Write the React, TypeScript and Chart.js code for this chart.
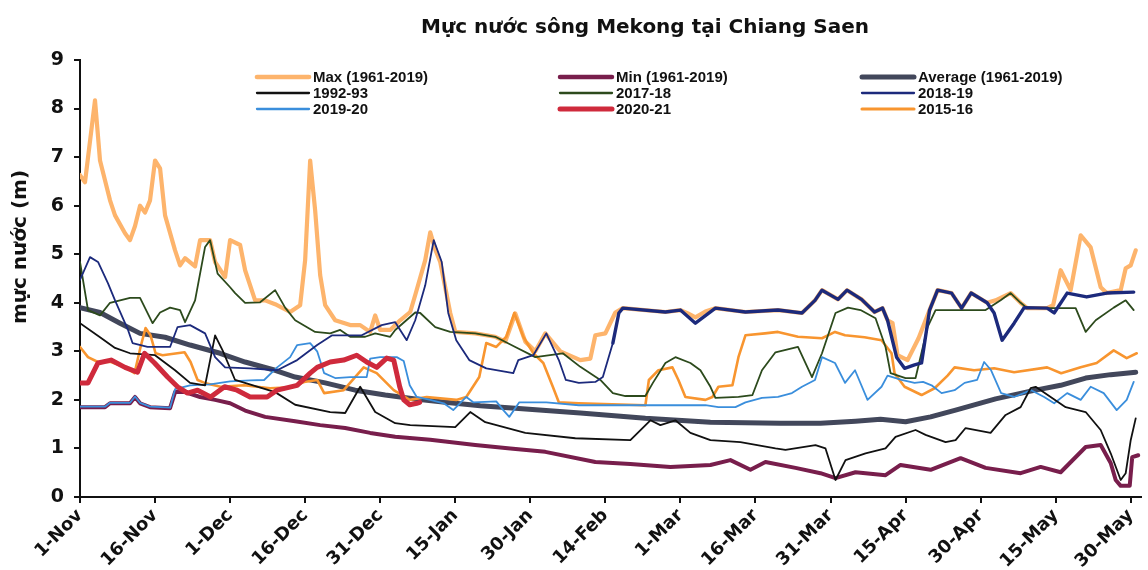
import React, { useEffect, useRef } from 'react';
import { Chart, registerables } from 'chart.js';

Chart.register(...registerables);

type Pt = [number, number];

const TITLE = 'Mực nước sông Mekong tại Chiang Saen';
const Y_TITLE = 'mực nước (m)';

const tickDays = [0, 15, 30, 45, 60, 75, 90, 105, 120, 135, 150, 165, 180, 195, 210];
const tickLabels = ['1-Nov', '16-Nov', '1-Dec', '16-Dec', '31-Dec', '15-Jan', '30-Jan', '14-Feb', '1-Mar', '16-Mar', '31-Mar', '15-Apr', '30-Apr', '15-May', '30-May'];
const yTicks = [0, 1, 2, 3, 4, 5, 6, 7, 8, 9];

const seriesNames = ['Max (1961-2019)', 'Min (1961-2019)', 'Average (1961-2019)', '1992-93', '2017-18', '2018-19', '2019-20', '2020-21', '2015-16'];

// [day since 1-Nov, water level (m)]
const maxSeries: Pt[] = [[0, 6.63], [1, 6.48], [3, 8.17], [4, 6.93], [6, 6.11], [7, 5.8], [9, 5.43], [10, 5.29], [11, 5.58], [12, 6.0], [13, 5.86], [14, 6.11], [15, 6.93], [16, 6.77], [17, 5.8], [19, 5.08], [20, 4.77], [21, 4.92], [23, 4.75], [24, 5.29], [26, 5.29], [27, 4.84], [29, 4.53], [30, 5.29], [32, 5.19], [33, 4.67], [35, 4.05], [37, 4.05], [39, 3.97], [42, 3.81], [44, 3.95], [45, 4.88], [46, 6.93], [47, 5.9], [48, 4.57], [49, 3.95], [51, 3.64], [54, 3.54], [56, 3.54], [58, 3.4], [59, 3.74], [60, 3.44], [62, 3.44], [64, 3.64], [66, 3.81], [67, 4.16], [69, 4.88], [70, 5.45], [71, 5.1], [72, 4.84], [74, 3.79], [75, 3.4], [79, 3.37], [83, 3.3], [85, 3.2], [87, 3.78], [89, 3.2], [91, 3.0], [93, 3.37], [96, 3.0], [100, 2.82], [102, 2.85], [103, 3.33], [105, 3.37], [107, 3.8], [108.5, 3.89], [117, 3.81], [120, 3.85], [121.5, 3.78], [123, 3.7], [125, 3.82], [127, 3.89], [133, 3.81], [139.5, 3.85], [144.3, 3.79], [146.9, 4.05], [148.3, 4.26], [151.5, 4.07], [153.3, 4.26], [156.2, 4.07], [158.8, 3.81], [160.4, 3.89], [161.4, 3.64], [162.4, 3.58], [163.4, 2.92], [165.4, 2.82], [167.6, 3.27], [169.8, 3.85], [171.4, 4.26], [174.2, 4.2], [176.2, 3.89], [178.1, 4.2], [181.3, 4.0], [183, 4.05], [186, 4.2], [188, 4.0], [189.3, 3.89], [193.3, 3.89], [194.5, 3.95], [196, 4.67], [198, 4.26], [200, 5.39], [202, 5.14], [204, 4.32], [205.2, 4.2], [208, 4.26], [209, 4.71], [210, 4.77], [211, 5.08]];

const minSeries: Pt[] = [[0, 1.85], [5, 1.85], [6, 1.93], [10, 1.93], [11, 2.06], [12, 1.93], [14, 1.85], [18, 1.83], [19, 2.16], [21, 2.16], [24, 2.06], [27, 2.0], [30, 1.93], [33, 1.78], [37, 1.65], [43, 1.56], [48, 1.48], [53, 1.42], [58, 1.32], [63, 1.24], [70, 1.18], [79, 1.07], [86, 1.0], [93, 0.93], [103, 0.72], [110, 0.68], [118, 0.62], [126, 0.66], [130, 0.76], [134, 0.56], [137, 0.72], [143, 0.6], [148, 0.49], [151, 0.39], [155, 0.51], [161, 0.45], [164, 0.66], [170, 0.56], [176, 0.8], [181, 0.6], [188, 0.49], [192, 0.62], [196, 0.51], [201, 1.03], [204, 1.07], [206, 0.7], [207, 0.35], [208, 0.23], [209.8, 0.23], [210.3, 0.82], [211.5, 0.86]];

const averageSeries: Pt[] = [[0, 3.9], [4, 3.8], [8, 3.58], [12, 3.37], [17, 3.29], [22, 3.13], [28, 2.96], [33, 2.78], [39, 2.61], [43, 2.47], [49, 2.35], [55, 2.2], [61, 2.1], [67, 2.02], [73, 1.95], [80, 1.88], [87, 1.83], [100, 1.73], [113, 1.62], [126, 1.54], [140, 1.52], [148, 1.52], [155, 1.56], [160, 1.6], [165, 1.55], [170, 1.65], [175, 1.79], [183, 2.02], [190, 2.18], [196, 2.3], [201, 2.45], [206, 2.52], [211, 2.57]];

const y1992: Pt[] = [[0, 3.58], [4, 3.29], [7, 3.07], [10, 2.96], [15, 2.92], [19, 2.61], [22, 2.35], [25, 2.3], [27, 3.33], [28.5, 3.02], [31, 2.41], [39, 2.16], [43, 1.9], [50, 1.75], [53, 1.73], [56, 2.27], [59, 1.75], [63, 1.52], [66, 1.48], [75, 1.44], [78, 1.75], [81, 1.54], [89, 1.32], [99, 1.21], [110, 1.17], [114, 1.58], [116, 1.48], [119, 1.58], [122, 1.32], [126, 1.17], [132, 1.13], [139, 1.0], [141, 0.97], [147, 1.07], [149, 1.0], [151, 0.35], [153, 0.76], [157, 0.9], [161, 1.0], [163, 1.24], [167, 1.38], [169, 1.28], [173, 1.13], [175, 1.17], [177, 1.42], [182, 1.32], [185, 1.69], [188, 1.85], [190, 2.24], [191, 2.27], [197, 1.85], [201, 1.75], [204, 1.38], [206, 0.9], [208, 0.35], [209, 0.49], [210, 1.17], [211, 1.62]];

const y2017: Pt[] = [[0, 4.84], [1.6, 3.85], [4, 3.74], [6, 4.0], [10, 4.1], [12, 4.1], [14.5, 3.58], [16, 3.8], [18, 3.9], [20, 3.85], [21, 3.6], [23, 4.05], [25, 5.15], [26, 5.29], [27.5, 4.6], [30, 4.32], [31, 4.2], [33, 4.0], [36, 4.01], [39, 4.26], [41, 3.9], [43, 3.64], [47, 3.4], [50, 3.37], [52, 3.44], [54, 3.3], [57, 3.3], [59, 3.37], [62, 3.3], [63, 3.44], [67, 3.8], [68, 3.79], [71, 3.5], [74, 3.4], [79, 3.37], [83, 3.3], [87, 3.09], [91, 2.88], [96.5, 2.96], [100, 2.68], [104, 2.41], [106.5, 2.14], [109, 2.08], [113, 2.08], [114.5, 2.35], [117, 2.76], [119, 2.88], [122, 2.76], [124, 2.61], [126, 2.27], [127, 2.04], [131.6, 2.06], [134.4, 2.1], [136.3, 2.61], [139, 2.98], [143.5, 3.09], [146.3, 2.47], [148.3, 2.96], [151, 3.79], [153.5, 3.9], [156, 3.85], [159, 3.68], [161, 3.09], [162, 2.55], [165, 2.45], [167, 2.45], [169.4, 3.5], [171, 3.85], [181, 3.85], [184, 4.05], [186, 4.2], [188, 4.0], [189.3, 3.89], [199, 3.89], [201, 3.4], [203, 3.64], [206.6, 3.9], [209, 4.05], [210.6, 3.85]];

const y2018: Pt[] = [[0, 4.47], [2, 4.94], [3.6, 4.84], [5.6, 4.4], [7, 4.05], [9.6, 3.44], [10.5, 3.17], [13.5, 3.09], [18, 3.09], [19.5, 3.5], [22, 3.54], [25, 3.37], [27, 2.88], [29, 2.67], [34, 2.65], [39.4, 2.61], [43.4, 2.82], [47.4, 3.13], [50.4, 3.33], [56.3, 3.33], [60.3, 3.54], [63, 3.6], [65.3, 3.23], [67, 3.64], [69, 4.36], [70.7, 5.29], [72.3, 4.84], [73.6, 3.79], [75.2, 3.23], [77.8, 2.82], [81.2, 2.65], [86.6, 2.55], [87.6, 2.82], [90.6, 2.92], [93.2, 3.37], [95.7, 2.82], [97.1, 2.41], [99.7, 2.35], [103, 2.37], [104.5, 2.47], [106.5, 3.17], [107.7, 3.79], [108.5, 3.89], [117, 3.81], [120, 3.85], [123, 3.58], [127, 3.89], [133, 3.81], [139.5, 3.85], [144.3, 3.79], [146.9, 4.05], [148.3, 4.26], [151.5, 4.07], [153.3, 4.26], [156.2, 4.07], [158.8, 3.81], [160.4, 3.89], [161.4, 3.64], [163.2, 2.88], [164.8, 2.65], [166.8, 2.72], [168.2, 2.76], [169.8, 3.85], [171.4, 4.26], [174.2, 4.2], [176.2, 3.89], [178.1, 4.2], [181.3, 4.0], [182.7, 3.79], [184.3, 3.23], [186.7, 3.58], [188.7, 3.9], [193.3, 3.89], [194.7, 3.79], [197.3, 4.2], [201.2, 4.12], [205.2, 4.2], [210.6, 4.22]];

const y2019: Pt[] = [[0, 1.86], [5, 1.86], [6, 1.94], [10, 1.94], [11, 2.07], [12, 1.94], [14, 1.86], [18, 1.84], [19, 2.22], [22, 2.3], [26, 2.32], [30, 2.38], [34, 2.4], [36.8, 2.41], [39.4, 2.67], [42, 2.88], [43.4, 3.13], [46, 3.17], [47.4, 3.0], [48.8, 2.55], [51, 2.45], [54, 2.47], [57.3, 2.47], [58, 2.85], [60, 2.88], [63.3, 2.88], [64.7, 2.8], [65.9, 2.3], [67.3, 2.06], [70, 2.0], [72.7, 1.93], [74.6, 1.79], [77.2, 2.06], [78.6, 1.95], [83.2, 1.97], [84.6, 1.79], [85.8, 1.65], [87.8, 1.95], [93.2, 1.95], [99.7, 1.89], [113, 1.89], [125, 1.89], [127.6, 1.85], [131, 1.85], [133, 1.95], [136.3, 2.04], [139.5, 2.06], [142.3, 2.14], [144.3, 2.27], [146.9, 2.41], [148.3, 2.88], [150.9, 2.76], [152.9, 2.35], [154.9, 2.61], [157.4, 2.0], [160.2, 2.27], [161.4, 2.5], [164.2, 2.41], [166.8, 2.35], [168.5, 2.37], [170.2, 2.3], [172.2, 2.14], [174.8, 2.2], [176.8, 2.35], [179.3, 2.41], [180.7, 2.78], [182.1, 2.61], [184.1, 2.14], [186.7, 2.06], [190.1, 2.2], [192.7, 2.06], [194.7, 1.93], [197.3, 2.14], [200, 2.0], [202, 2.27], [204.6, 2.14], [207.2, 1.79], [209.2, 2.0], [210.6, 2.37]];

const y2020: Pt[] = [[0, 2.35], [1.6, 2.35], [3.6, 2.76], [6.2, 2.82], [9, 2.67], [11.5, 2.57], [12.9, 2.96], [14.9, 2.76], [17.5, 2.47], [19.5, 2.27], [21.5, 2.14], [23.5, 2.2], [26.1, 2.06], [28.9, 2.27], [31.4, 2.2], [34, 2.06], [37.4, 2.06], [39.4, 2.2], [43.4, 2.3], [46, 2.55], [47.4, 2.67], [50, 2.78], [52.7, 2.82], [55.3, 2.92], [57.3, 2.78], [59.3, 2.67], [61.3, 2.86], [62.7, 2.82], [63.9, 2.27], [64.7, 2.0], [65.9, 1.9], [67.3, 1.93], [67.9, 1.95]];

const y2015: Pt[] = [[0, 3.09], [1.6, 2.88], [3.6, 2.78], [6.2, 2.78], [9, 2.67], [10.9, 2.55], [12.1, 3.09], [13.1, 3.48], [14.1, 3.33], [15.1, 2.96], [16.5, 2.92], [20.9, 2.98], [22.1, 2.78], [23.5, 2.41], [24.9, 2.35], [28.1, 2.27], [32.8, 2.3], [38, 2.24], [42, 2.26], [44.8, 2.37], [47.4, 2.41], [48.8, 2.14], [52.7, 2.2], [56.7, 2.67], [59.3, 2.55], [62.7, 2.2], [65.9, 2.0], [69.3, 2.06], [75.2, 2.0], [77.2, 2.06], [79.8, 2.47], [81.2, 3.17], [83.2, 3.09], [85.2, 3.3], [86.8, 3.79], [88.6, 3.3], [90.6, 2.96], [92.6, 2.76], [94.5, 2.27], [95.7, 1.95], [99.7, 1.93], [113, 1.89], [113.7, 2.41], [115.6, 2.61], [118.4, 2.67], [119.6, 2.41], [121, 2.06], [125, 2.0], [126.4, 2.06], [127.6, 2.27], [130.4, 2.3], [131.6, 2.88], [133, 3.33], [136.9, 3.37], [139.5, 3.4], [143.5, 3.3], [148.3, 3.27], [150.9, 3.4], [152.9, 3.33], [156.8, 3.29], [160.2, 3.23], [162.2, 2.96], [162.8, 2.55], [164.8, 2.27], [168.2, 2.1], [170.8, 2.24], [173.4, 2.5], [174.8, 2.67], [178.7, 2.61], [182.7, 2.65], [186.7, 2.57], [193.3, 2.67], [196.1, 2.55], [200, 2.67], [203.2, 2.76], [206.6, 3.02], [209.2, 2.86], [211.2, 2.96]];

const seriesData: Pt[][] = [maxSeries, minSeries, averageSeries, y1992, y2017, y2018, y2019, y2020, y2015];
const seriesColors = ['#FDB46C', '#781E4C', '#42475B', '#111111', '#2C4A1C', '#1C2A7C', '#3A8EDC', '#CF2A3C', '#F8952F'];
const seriesWidths = [4.2, 4, 5, 1.8, 1.8, 1.8, 1.8, 5, 2.6];
const seriesOrder = [9, 8, 7, 3, 5, 2, 4, 1, 6];
// legend grid: column-major, as in the reference
const legendSlots = [[0, 0], [1, 0], [2, 0], [0, 1], [1, 1], [2, 1], [0, 2], [1, 2], [2, 2]];

const overlayPlugin = {
  id: 'overlay',
  afterDraw(chart: any) {
    const ctx: CanvasRenderingContext2D = chart.ctx;
    ctx.save();
    ctx.fillStyle = '#111';
    ctx.textAlign = 'center';
    ctx.textBaseline = 'middle';
    ctx.font = "bold 20px 'DejaVu Sans'";
    ctx.fillText(TITLE, 645, 28);

    ctx.save();
    ctx.translate(21, 247);
    ctx.rotate(-Math.PI / 2);
    ctx.font = "bold 20px 'DejaVu Sans'";
    ctx.fillText(Y_TITLE, 0, 0);
    ctx.restore();

    const colX = [255, 558, 860];
    const rowY = [77, 93, 109];
    ctx.textAlign = 'left';
    ctx.font = "bold 15px 'Liberation Sans'";
    seriesNames.forEach((name, i) => {
      const [c, r] = legendSlots[i];
      const x = colX[c];
      const y = rowY[r];
      ctx.beginPath();
      ctx.strokeStyle = seriesColors[i];
      ctx.lineWidth = Math.min(seriesWidths[i] + 0.5, 5);
      ctx.lineCap = 'round';
      ctx.moveTo(x + 2, y);
      ctx.lineTo(x + 54, y);
      ctx.stroke();
      ctx.fillStyle = '#111';
      ctx.fillText(name, x + 58, y + 1);
    });
    ctx.restore();
  },
};

export default function App() {
  const ref = useRef<HTMLCanvasElement>(null);

  useEffect(() => {
    const canvas = ref.current;
    if (!canvas) return;
    const datasets = seriesNames.map((name, i) => ({
      label: name,
      data: seriesData[i].map(([x, y]) => ({ x, y })),
      borderColor: seriesColors[i],
      backgroundColor: seriesColors[i],
      borderWidth: seriesWidths[i],
      order: seriesOrder[i],
      pointRadius: 0,
      fill: false,
      tension: 0,
      borderJoinStyle: 'round' as const,
      borderCapStyle: 'round' as const,
      // 2018-19 runs along the Max envelope from mid-Feb: draw it heavier there
      segment: i === 5 ? { borderWidth: (c: any) => (c.p0.parsed.x >= 106 ? 3.4 : undefined) } : undefined,
    }));
    const tickFont = { family: "'DejaVu Sans'", weight: 'bold' as const };
    const chart = new Chart(canvas, {
      type: 'line',
      data: { datasets },
      options: {
        responsive: false,
        animation: false,
        layout: { padding: { left: 0, top: 60, right: 2, bottom: 0 } },
        plugins: {
          legend: { display: false },
          tooltip: { enabled: false },
          title: { display: false },
        },
        scales: {
          x: {
            type: 'linear',
            min: 0,
            max: 212,
            afterBuildTicks: (s: any) => {
              s.ticks = tickDays.map((v) => ({ value: v }));
            },
            afterFit: (s: any) => {
              s.height = 73;
            },
            ticks: {
              autoSkip: false,
              minRotation: 45,
              maxRotation: 45,
              padding: 2,
              color: '#111',
              font: { ...tickFont, size: 18 },
              callback: (v: any) => {
                const idx = tickDays.indexOf(Number(v));
                return idx >= 0 ? tickLabels[idx] : '';
              },
            },
            grid: { drawOnChartArea: false, drawTicks: true, tickLength: 6, color: '#111', lineWidth: 2 },
            border: { display: true, color: '#111', width: 2 },
          },
          y: {
            type: 'linear',
            min: 0,
            max: 9,
            afterBuildTicks: (s: any) => {
              s.ticks = yTicks.map((v) => ({ value: v }));
            },
            afterFit: (s: any) => {
              s.width = 80;
            },
            ticks: {
              padding: 10,
              color: '#111',
              font: { ...tickFont, size: 19 },
            },
            grid: { drawOnChartArea: false, drawTicks: true, tickLength: 6, color: '#111', lineWidth: 2 },
            border: { display: true, color: '#111', width: 2 },
          },
        },
      },
      plugins: [overlayPlugin],
    });
    return () => chart.destroy();
  }, []);

  return (
    <div style={{ position: 'fixed', left: 0, top: 0, width: 1148, height: 570, background: '#fff' }}>
      <canvas ref={ref} width={1148} height={570} style={{ display: 'block' }} />
    </div>
  );
}
